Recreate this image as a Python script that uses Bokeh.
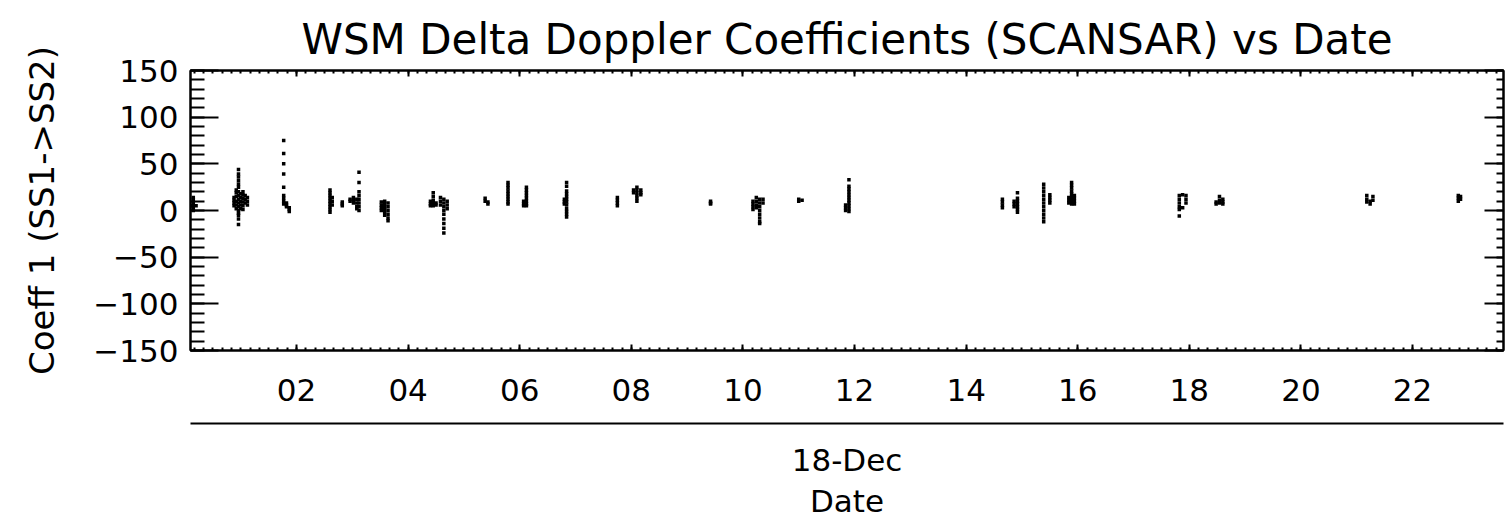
from bokeh.plotting import figure
from bokeh.models import LinearAxis, FixedTicker, Title, ColumnDataSource
from bokeh.embed import file_html
from bokeh.resources import INLINE

# ---- data (hours of 18-Dec, Coeff 1 values) ----
cluster_hours = [0.11, 0.15, 0.20,
                 0.88, 0.92, 0.96, 1.00, 1.04, 1.08, 1.12,
                 1.77, 1.82, 1.87,
                 2.60, 2.64, 2.82, 2.96, 3.02, 3.08, 3.12,
                 3.52, 3.58, 3.64,
                 4.40, 4.45, 4.50, 4.58, 4.64, 4.70,
                 5.38, 5.43, 5.79, 6.07, 6.12, 6.80, 6.84,
                 7.75, 8.04, 8.10, 8.17, 9.42,
                 10.18, 10.24, 10.30, 10.36, 11.00, 11.06, 11.84, 11.90,
                 14.65, 14.86, 14.92, 15.39, 15.50, 15.84, 15.89, 15.94,
                 17.82, 17.88, 17.94, 18.48, 18.54, 18.60,
                 21.18, 21.24, 21.29, 22.82, 22.86]

cluster_values = [
    [5], [0, 2, 4, 6, 8, 10, 12, 14], [5],
    [5, 8, 11, 14], [2, 6, 10, 15, 19, 22],
    [44, 39, 36, 32, 28, 25, 20, 16, 12, 8, 4, 0, -3, -5, -9, -15],
    [18, 14, 10, 6, 2], [20, 17, 13, 9, 5, 1], [16, 12, 8], [14, 10, 6],
    [75, 61, 50, 39, 25, 16, 13, 10, 7], [8, 6, 4], [3, 1, -1],
    [22, 19, 16, 13, 10, 7, 4, 1, -2], [14, 10, 6], [9, 7, 5],
    [12, 10], [14, 11, 8], [12, 8, 4, 2], [41, 30, 20, 16, 12, 8, 4, 0],
    [9, 6, 3, 0], [10, 7, 4, 1, -2, -5], [8, 4, 0, -4, -8, -11],
    [10, 7, 5], [19, 15, 11, 8, 5], [8, 6], [14, 10, 6],
    [12, 8, 4, 0, -4, -9, -14, -19, -24], [10, 6, 2],
    [13, 10], [9, 7], [30, 27, 24, 21, 18, 15, 12, 9, 7],
    [10, 7, 5], [25, 22, 19, 16, 13, 10, 7, 5],
    [12, 9, 7], [30, 26, 21, 18, 15, 12, 9, 6, 2, -1, -4, -7],
    [14, 11, 8, 5], [22, 19], [25, 22, 19, 16, 13, 10], [22, 19, 17],
    [10, 8, 7],
    [10, 7, 4, 1], [14, 10, 6, 3], [12, 8, 4, 0, -4, -8, -12, -14], [12, 8],
    [12, 10], [11], [6, 3, 0], [33, 26, 23, 20, 17, 14, 11, 8, 5, 2, -1],
    [12, 9, 6, 3], [10, 7, 4], [19, 13, 10, 7, 4, 1, -2],
    [28, 24, 20, 16, 12, 8, 4, 0, -4, -8, -12], [17, 14, 11, 8],
    [14, 11, 8], [30, 27, 24, 21, 18, 15, 12, 9, 7], [16, 13, 10, 7],
    [16, 12, 8, 4, 1, -6], [17, 3], [16, 12, 8],
    [9, 7], [15, 11, 8], [12, 9, 7],
    [16, 12, 9], [10, 7], [15, 11],
    [16, 13, 10], [15, 12],
]

x_tick_hours = [2, 4, 6, 8, 10, 12, 14, 16, 18, 20, 22]
x_tick_labels = ["02", "04", "06", "08", "10", "12", "14", "16", "18", "20", "22"]
y_ticks = [-150, -100, -50, 0, 50, 100, 150]
y_tick_labels = ["\u2212150", "\u2212100", "\u221250", "0", "50", "100", "150"]

title_text = "WSM Delta Doppler Coefficients (SCANSAR) vs Date"
y_label = "Coeff 1 (SS1->SS2)"
date_label = "18-Dec"
x_label = "Date"

xs, ys = [], []
for h, vals in zip(cluster_hours, cluster_values):
    for v in vals:
        xs.append(h)
        ys.append(v)
src = ColumnDataSource(dict(x=xs, y=ys))

FONT = "DejaVu Sans"

p = figure(width=1506, height=518, x_range=(0.1, 23.63), y_range=(-150, 150),
           output_backend="svg", toolbar_location=None,
           x_axis_location=None, y_axis_location=None,
           min_border_left=190, min_border_right=3, min_border_top=70,
           min_border_bottom=168)
p.grid.visible = False
p.outline_line_color = "black"
p.outline_line_width = 2
p.background_fill_color = "white"
p.border_fill_color = "white"

p.title.text = title_text
p.title.align = "center"
p.title.text_font = FONT
p.title.text_font_size = "42px"
p.title.text_font_style = "normal"
p.title.text_color = "black"
p.title.standoff = 14

x_minor = [i / 6 for i in range(0, 144)]
y_minor = list(range(-150, 151, 10))
xt = FixedTicker(ticks=x_tick_hours, minor_ticks=x_minor)
yt = FixedTicker(ticks=y_ticks, minor_ticks=y_minor)


def style(ax, tin, min_in, show_labels):
    ax.major_tick_in = tin
    ax.major_tick_out = 0
    ax.minor_tick_in = min_in
    ax.minor_tick_out = 0
    ax.major_tick_line_color = "black"
    ax.minor_tick_line_color = "black"
    ax.major_tick_line_width = 2
    ax.minor_tick_line_width = 2
    ax.axis_line_color = "black"
    ax.axis_line_width = 2
    ax.major_label_text_font = FONT
    if show_labels:
        ax.major_label_text_font_size = "31px"
        ax.major_label_text_color = "black"
    else:
        ax.major_label_text_font_size = "1px"
        ax.major_label_text_color = None
        ax.major_label_standoff = 0


# bottom axis with hour labels
ax_b = LinearAxis(ticker=xt, major_label_overrides=dict(zip(x_tick_hours, x_tick_labels)))
style(ax_b, 6, 3, True)
ax_b.major_label_standoff = 28
ax_b.axis_label = " "
ax_b.axis_label_text_font_size = "10px"
ax_b.axis_label_text_color = None
ax_b.axis_label_standoff = 6
p.add_layout(ax_b, "below")

# second bottom axis: date line with "18-Dec"
ax_d = LinearAxis(ticker=FixedTicker(ticks=[]))
style(ax_d, 0, 0, False)
ax_d.axis_label = date_label
ax_d.axis_label_text_font = FONT
ax_d.axis_label_text_font_size = "31px"
ax_d.axis_label_text_font_style = "normal"
ax_d.axis_label_text_color = "black"
ax_d.axis_label_standoff = 18
p.add_layout(ax_d, "below")

p.add_layout(Title(text=x_label, align="center", text_font=FONT, text_font_size="31px",
                   text_font_style="normal", text_color="black", standoff=0), "below")

# top axis (ticks only)
ax_t = LinearAxis(ticker=xt)
style(ax_t, 6, 3, False)
p.add_layout(ax_t, "above")

# left axis
ax_l = LinearAxis(ticker=yt, major_label_overrides=dict(zip(y_ticks, y_tick_labels)))
style(ax_l, 28, 14, True)
ax_l.major_label_standoff = 12
ax_l.axis_label = y_label
ax_l.axis_label_text_font = FONT
ax_l.axis_label_text_font_size = "34px"
ax_l.axis_label_text_font_style = "normal"
ax_l.axis_label_text_color = "black"
ax_l.axis_label_standoff = 28
p.add_layout(ax_l, "left")

# right axis (ticks only)
ax_r = LinearAxis(ticker=yt)
style(ax_r, 19, 7, False)
p.add_layout(ax_r, "right")

p.scatter("x", "y", source=src, marker="square", size=3.5, color="black", line_width=0)

open("out.html", "w").write(file_html(p, INLINE))
